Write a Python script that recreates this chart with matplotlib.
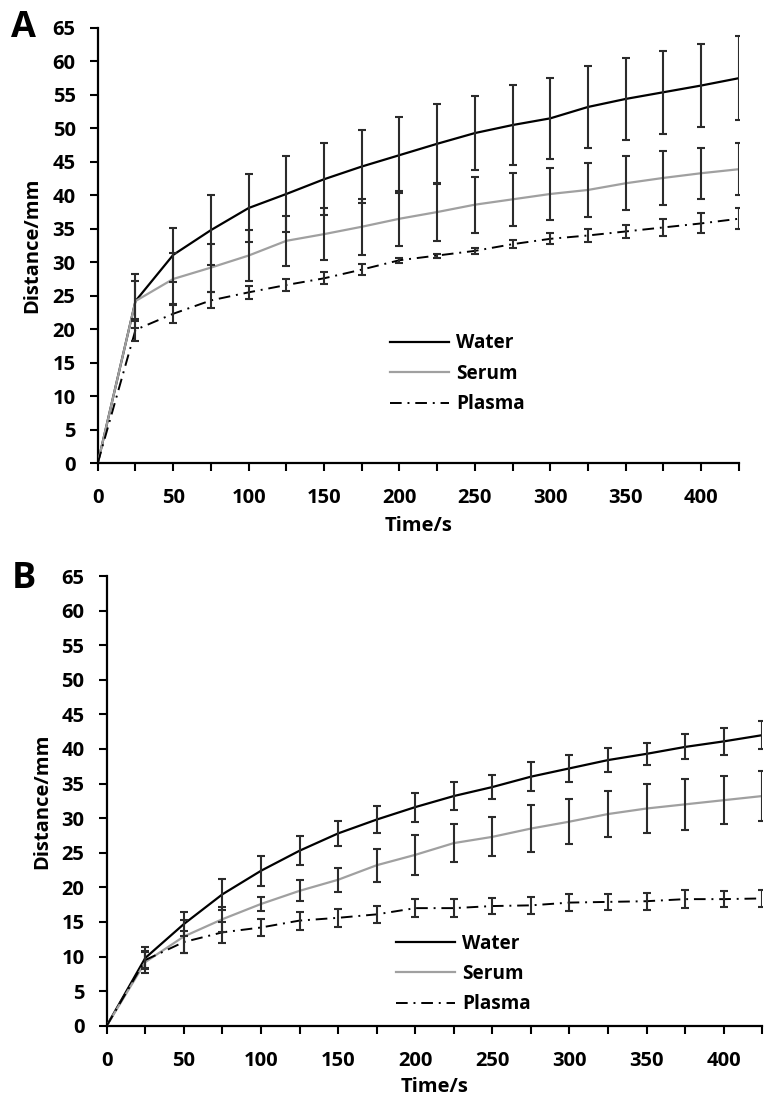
import matplotlib
matplotlib.use("Agg")
import matplotlib.pyplot as plt
import numpy as np
from matplotlib.ticker import FixedLocator, FuncFormatter

# time points (s)
time_s = [0, 25, 50, 75, 100, 125, 150, 175, 200, 225, 250, 275, 300, 325, 350, 375, 400, 425]

# panel A
a_water = [0, 24.2, 31.1, 34.8, 38.1, 40.2, 42.4, 44.3, 46.0, 47.7, 49.3, 50.5, 51.5, 53.2, 54.4, 55.4, 56.4, 57.5]
a_water_err = [0, 4.0, 4.0, 5.2, 5.1, 5.7, 5.4, 5.5, 5.7, 6.0, 5.5, 6.0, 6.0, 6.1, 6.1, 6.2, 6.2, 6.3]
a_serum = [0, 24.2, 27.5, 29.2, 31.0, 33.2, 34.2, 35.3, 36.5, 37.5, 38.6, 39.4, 40.2, 40.8, 41.8, 42.6, 43.3, 43.9]
a_serum_err = [0, 3.0, 3.9, 3.6, 3.8, 3.7, 3.9, 4.2, 4.1, 4.3, 4.2, 4.0, 3.9, 4.0, 4.0, 4.0, 3.8, 3.9]
a_plasma = [0, 19.9, 22.3, 24.3, 25.5, 26.6, 27.6, 28.9, 30.3, 31.0, 31.7, 32.7, 33.5, 34.0, 34.6, 35.2, 35.8, 36.5]
a_plasma_err = [0, 1.6, 1.4, 1.2, 1.0, 0.9, 0.9, 0.8, 0.4, 0.3, 0.4, 0.6, 0.8, 1.0, 1.0, 1.3, 1.5, 1.6]

# panel B
b_water = [0, 9.8, 14.7, 19.0, 22.4, 25.3, 27.8, 29.8, 31.6, 33.2, 34.5, 36.0, 37.2, 38.4, 39.3, 40.3, 41.1, 42.0]
b_water_err = [0, 1.6, 1.8, 2.2, 2.2, 2.1, 1.8, 2.0, 2.1, 2.0, 1.8, 2.1, 1.9, 1.7, 1.6, 1.8, 1.9, 2.0]
b_serum = [0, 9.2, 12.9, 15.4, 17.6, 19.5, 21.1, 23.2, 24.7, 26.4, 27.3, 28.5, 29.5, 30.6, 31.4, 32.0, 32.6, 33.2]
b_serum_err = [0, 1.6, 2.4, 1.8, 1.0, 1.5, 1.7, 2.4, 2.9, 2.8, 2.8, 3.4, 3.3, 3.3, 3.5, 3.7, 3.5, 3.6]
b_plasma = [0, 9.5, 12.1, 13.5, 14.2, 15.2, 15.6, 16.1, 17.0, 17.0, 17.3, 17.4, 17.8, 17.9, 18.0, 18.3, 18.3, 18.4]
b_plasma_err = [0, 1.2, 1.6, 1.5, 1.2, 1.3, 1.3, 1.2, 1.3, 1.3, 1.2, 1.2, 1.2, 1.2, 1.2, 1.3, 1.2, 1.2]

plt.rcParams["font.family"] = ["Open Sans", "DejaVu Sans"]
plt.rcParams["font.weight"] = "bold"

ERR_COLOR = "#2b2b2b"


def draw_panel(ax, water, water_err, serum, serum_err, plasma, plasma_err,
               legend_anchor, ylab_x, xlab_y):
    ax.plot(time_s, water, color="black", lw=1.6, label="Water", zorder=3)
    ax.plot(time_s, serum, color="#a0a0a0", lw=1.6, label="Serum", zorder=3)
    ax.plot(time_s, plasma, color="black", lw=1.4, ls=(0, (6, 3, 1, 3)), label="Plasma", zorder=3)
    for y, e in [(water, water_err), (serum, serum_err), (plasma, plasma_err)]:
        ax.errorbar(time_s[1:], y[1:], yerr=e[1:], fmt="none", ecolor=ERR_COLOR,
                    elinewidth=1.5, capsize=2.8, capthick=1.5, zorder=4)

    ax.set_xlim(0, 425)
    ax.set_ylim(0, 65)
    ax.xaxis.set_major_locator(FixedLocator(np.arange(0, 426, 25)))
    ax.xaxis.set_major_formatter(FuncFormatter(lambda v, p: f"{int(v)}" if int(v) % 50 == 0 else ""))
    ax.yaxis.set_major_locator(FixedLocator(np.arange(0, 66, 5)))
    ax.tick_params(direction="out", length=6, width=1.5, labelsize=14.5)
    ax.tick_params(axis="y", pad=10)
    ax.tick_params(axis="x", pad=12)
    for s in ["top", "right"]:
        ax.spines[s].set_visible(False)
    for s in ["left", "bottom"]:
        ax.spines[s].set_linewidth(1.6)
    for lab in ax.get_xticklabels() + ax.get_yticklabels():
        lab.set_fontweight("bold")
    ax.set_xlabel("Time/s", fontsize=14.5, fontweight="bold")
    ax.set_ylabel("Distance/mm", fontsize=14.5, fontweight="bold")
    ax.xaxis.set_label_coords(0.5, xlab_y)
    ax.yaxis.set_label_coords(ylab_x, 0.5)
    leg = ax.legend(loc="upper left", bbox_to_anchor=legend_anchor, frameon=False,
                    fontsize=13.7, handlelength=3.1, labelspacing=0.55, handletextpad=0.37,
                    borderaxespad=0, borderpad=0)
    for t in leg.get_texts():
        t.set_fontweight("bold")


fig = plt.figure(figsize=(7.64, 10.98), dpi=100)
ax_a = fig.add_axes([0.128, 0.5783, 0.839, 0.3962])
ax_b = fig.add_axes([0.1397, 0.0658, 0.8581, 0.4096])

draw_panel(ax_a, a_water, a_water_err, a_serum, a_serum_err, a_plasma, a_plasma_err,
           (0.4555, 0.298), -0.0874, -0.122)
draw_panel(ax_b, b_water, b_water_err, b_serum, b_serum_err, b_plasma, b_plasma_err,
           (0.441, 0.205), -0.0834, -0.114)

fig.text(0.015, 0.9745, "A", fontsize=26, fontweight="bold", va="center", ha="left")
fig.text(0.015, 0.473, "B", fontsize=26, fontweight="bold", va="center", ha="left")

fig.savefig("out.png", dpi=100)
